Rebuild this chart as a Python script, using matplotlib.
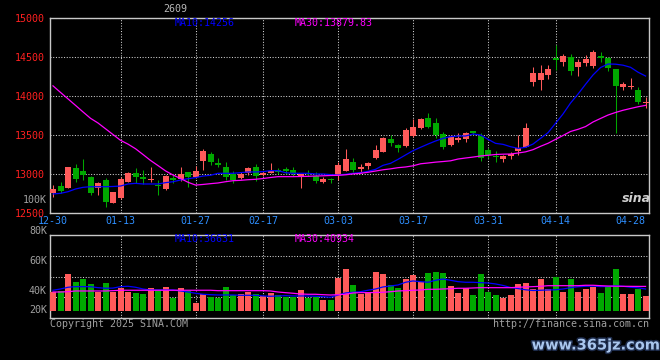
import matplotlib
matplotlib.use("Agg")
import matplotlib.pyplot as plt
import matplotlib.patheffects as pe

# ---------------------------------------------------------------
# daily candles, 12-30 .. 04-30
# ---------------------------------------------------------------
opens = [12760, 12846, 12825, 13077, 13034, 12957, 12817, 12923, 12632, 12696,
         12901, 13013, 12962, 12919, 12863, 12812, 12953, 12932, 13026, 12966,
         13171, 13256, 13137, 13094, 13000, 12949, 13009, 13094, 12991, 13017,
         13051, 13064, 13051, 12966, 13017, 12974, 12901, 12940, 12987, 13043,
         13158, 13064, 13103, 13201, 13286, 13449, 13372, 13363, 13492, 13586,
         13714, 13650, 13509, 13372, 13436, 13453, 13551, 13492, 13308, 13230,
         13188, 13231, 13299, 13350, 14183, 14205, 14269, 14491, 14440, 14496,
         14376, 14419, 14389, 14513, 14483, 14342, 14120, 14115, 14077, 13906]
highs = [12859, 12901, 13095, 13128, 13192, 12970, 12901, 12945, 12770, 12957,
         13025, 13073, 13051, 13086, 12923, 12990, 12987, 13086, 13030, 13107,
         13316, 13286, 13201, 13158, 13043, 13030, 13090, 13128, 13040, 13137,
         13073, 13090, 13086, 13000, 13051, 13030, 12960, 12945, 13150, 13320,
         13209, 13124, 13160, 13372, 13480, 13500, 13380, 13590, 13705, 13720,
         13778, 13714, 13543, 13500, 13522, 13543, 13556, 13530, 13330, 13290,
         13240, 13286, 13500, 13658, 14376, 14397, 14397, 14654, 14538, 14538,
         14470, 14530, 14590, 14560, 14500, 14350, 14180, 14227, 14120, 13983]
lows = [12709, 12753, 12820, 12901, 12923, 12735, 12731, 12581, 12630, 12675,
        12895, 12889, 12868, 12901, 12731, 12800, 12889, 12910, 12837, 12950,
        13051, 13115, 13086, 12923, 12880, 12940, 12987, 12914, 12980, 13010,
        13000, 13000, 12980, 12824, 12970, 12880, 12890, 12880, 12923, 13043,
        13030, 13009, 13060, 13195, 13280, 13363, 13278, 13340, 13478, 13575,
        13586, 13466, 13320, 13360, 13414, 13414, 13500, 13165, 13210, 13160,
        13150, 13190, 13244, 13340, 14128, 14077, 14218, 14333, 14389, 14269,
        14256, 14380, 14355, 14440, 14320, 13522, 14080, 14085, 13900, 13850]
closes = [12804, 12786, 13093, 12940, 12987, 12752, 12889, 12645, 12765, 12936,
          13013, 12966, 12940, 12936, 12846, 12974, 12923, 13004, 12962, 13043,
          13299, 13158, 13115, 12957, 12923, 13000, 13073, 12978, 13017, 13043,
          13030, 13038, 13009, 12996, 13000, 12910, 12940, 12923, 13115, 13192,
          13051, 13094, 13145, 13308, 13466, 13402, 13329, 13564, 13607, 13705,
          13607, 13500, 13350, 13479, 13466, 13530, 13522, 13201, 13244, 13220,
          13231, 13253, 13329, 13586, 14299, 14299, 14346, 14462, 14513, 14325,
          14440, 14474, 14568, 14483, 14355, 14132, 14154, 14128, 13927, 13919]

# volume in thousands
volumes = [31.1, 32.8, 61.6, 48.3, 53.3, 45.0, 32.1, 46.6, 32.1, 37.8,
           32.1, 30.5, 28.3, 38.3, 35.0, 40.0, 22.1, 38.3, 33.8, 13.8,
           27.8, 23.8, 22.1, 40.0, 26.6, 28.3, 32.1, 28.8, 24.5, 30.5,
           26.6, 23.8, 23.8, 35.0, 22.1, 23.8, 18.3, 18.8, 54.9, 69.9,
           43.3, 28.3, 31.1, 65.4, 61.6, 43.3, 38.3, 53.3, 59.9, 48.8,
           63.3, 64.9, 63.3, 41.6, 30.5, 38.3, 26.6, 61.6, 31.6, 26.6,
           22.1, 26.6, 45.0, 46.6, 37.1, 53.3, 37.1, 56.6, 31.6, 53.3,
           31.6, 37.1, 40.5, 30.0, 39.5, 69.9, 28.3, 28.3, 37.1, 25.0]

# moving averages as drawn on the chart
ma10 = [12744, 12752, 12773, 12808, 12829, 12837, 12837, 12837, 12840, 12846,
        12872, 12880, 12872, 12872, 12872, 12889, 12901, 12923, 12940, 12953,
        12974, 12983, 13009, 13009, 13009, 13017, 13026, 13026, 13030, 13043,
        13043, 13017, 13009, 13009, 13009, 13000, 13000, 12992, 12987, 12996,
        13009, 13017, 13034, 13060, 13111, 13137, 13188, 13244, 13299, 13342,
        13384, 13423, 13457, 13479, 13487, 13487, 13513, 13500, 13445, 13393,
        13380, 13350, 13329, 13342, 13384, 13457, 13530, 13650, 13770, 13910,
        14025, 14150, 14270, 14365, 14410, 14408, 14395, 14368, 14305, 14256]
ma30 = [14130, 14046, 13963, 13880, 13796, 13714, 13654, 13580, 13506, 13432,
        13383, 13324, 13250, 13174, 13108, 13040, 12987, 12942, 12894, 12858,
        12866, 12876, 12885, 12901, 12914, 12919, 12927, 12932, 12942, 12955,
        12966, 12966, 12966, 12968, 12970, 12974, 12977, 12981, 12983, 12990,
        13001, 13009, 13022, 13038, 13054, 13066, 13081, 13090, 13105, 13131,
        13141, 13152, 13160, 13169, 13192, 13205, 13217, 13231, 13240, 13250,
        13254, 13256, 13269, 13284, 13312, 13355, 13394, 13444, 13494, 13545,
        13573, 13608, 13667, 13712, 13756, 13789, 13817, 13840, 13862, 13880]
vol_ma10 = [34.5, 36.6, 39.5, 40.5, 40.5, 40.5, 38.8, 37.8, 38.1, 40.5,
            41.1, 39.5, 36.6, 35.0, 35.0, 35.0, 35.0, 33.3, 31.6, 29.5,
            27.8, 27.1, 26.6, 26.6, 26.6, 26.1, 26.1, 26.1, 25.0, 24.5,
            25.0, 25.5, 25.0, 25.0, 25.0, 24.5, 23.8, 22.8, 26.6, 30.0,
            31.1, 32.1, 34.5, 36.6, 40.0, 41.6, 43.3, 47.8, 50.0, 48.8,
            47.8, 51.1, 53.3, 51.1, 48.8, 47.8, 47.8, 47.1, 46.6, 45.0,
            42.5, 39.1, 37.3, 35.3, 34.1, 34.5, 35.0, 35.3, 36.6, 38.8,
            40.3, 41.1, 41.5, 40.6, 40.8, 42.0, 41.1, 39.5, 38.6, 36.6]
vol_ma30 = [31.6, 31.6, 32.1, 33.3, 33.3, 33.3, 33.3, 33.3, 33.8, 34.5,
            34.5, 34.5, 34.5, 34.5, 34.5, 34.5, 34.5, 34.5, 34.5, 34.5,
            34.5, 34.5, 33.8, 33.8, 33.8, 33.8, 33.8, 33.8, 33.8, 33.3,
            31.6, 30.5, 29.5, 28.3, 27.8, 27.8, 27.1, 26.6, 27.1, 27.8,
            30.0, 30.5, 30.5, 30.8, 31.1, 32.1, 33.3, 33.8, 34.5, 35.0,
            36.1, 36.1, 36.6, 37.1, 37.8, 37.8, 38.3, 38.8, 38.8, 38.8,
            38.8, 38.8, 39.5, 40.0, 40.5, 41.1, 42.1, 42.1, 42.1, 42.1,
            42.1, 42.8, 42.8, 42.1, 41.5, 41.2, 41.1, 41.0, 40.9, 40.9]

date_labels = ["12-30", "01-13", "01-27", "02-17", "03-03",
               "03-17", "03-31", "04-14", "04-28"]
date_idx = [0, 9, 19, 28, 38, 48, 58, 67, 77]
price_ticks = [12500, 13000, 13500, 14000, 14500, 15000]
vol_labels = ["80K", "60K", "40K", "20K"]

# ---------------------------------------------------------------
# styling
# ---------------------------------------------------------------
RED = "#ff5a5a"
GREEN = "#00a800"
GRID = "#d0d0d0"
FRAME = "#c8c8c8"
GRAY = "#a0a0a0"
MONO = "DejaVu Sans Mono"
FS = 7.2

W, H = 660, 360


def fx(px):
    return px / W


def fy(py):
    return 1 - py / H


fig = plt.figure(figsize=(W / 100, H / 100), dpi=100, facecolor="black")
ax1 = fig.add_axes([fx(50), fy(213), 599.3 / W, 195 / H], facecolor="black")
ax2 = fig.add_axes([fx(50), fy(318.3), 599.3 / W, 83.3 / H], facecolor="black")

n = len(closes)
x = list(range(n))
cols = [RED if c >= o else GREEN for o, c in zip(opens, closes)]

# ---- price panel ----
ax1.vlines(x, lows, highs, colors=cols, lw=0.75, zorder=3)
bottoms = [min(o, c) for o, c in zip(opens, closes)]
heights = [max(abs(c - o), 13) for o, c in zip(opens, closes)]
ax1.bar(x, heights, bottom=bottoms, width=0.8, color=cols, lw=0, zorder=4)
ax1.plot(x, ma10, color="#0000ff", lw=0.9, zorder=5)
ax1.plot(x, ma30, color="#ff00ff", lw=0.9, zorder=5)

ax1.set_xlim(-0.4, 79.5)
ax1.set_ylim(12500, 15000)
ax1.set_yticks(price_ticks)
ax1.set_yticklabels([str(v) for v in price_ticks], family=MONO, fontsize=FS)
ax1.set_xticks(date_idx)
ax1.set_xticklabels(date_labels, family=MONO, fontsize=FS)
ax1.tick_params(axis="y", length=0, pad=3.5, labelcolor="#ff2020")
ax1.tick_params(axis="x", length=0, pad=2.5, labelcolor="#2e8fff")
ax1.yaxis.grid(True, color=GRID, lw=0.75, linestyle=(0, (1, 1.6)))

# ---- volume panel ----
ax2.bar(x, volumes, width=0.8, color=cols, lw=0, zorder=3)
ax2.plot(x, vol_ma10, color="#0000ff", lw=0.9, zorder=4)
ax2.plot(x, vol_ma30, color="#ff00ff", lw=0.9, zorder=4)
ax2.set_xlim(-0.4, 79.5)
ax2.set_ylim(-12.2, 126.5)
ax2.set_xticks([])
ax2.set_yticks([])
for f in (0.25, 0.5, 0.75):
    ax2.plot([0, 1], [f, f], transform=ax2.transAxes, color=GRID, lw=0.75,
             linestyle=(0, (1, 1.6)), zorder=1)

for ax in (ax1, ax2):
    for i in date_idx[1:-1]:
        ax.axvline(i, color=GRID, lw=0.75, linestyle=(0, (1, 1.6)), zorder=1)
    for s in ax.spines.values():
        s.set_color(FRAME)
        s.set_linewidth(1)

# ---- texts ----
txt = dict(family=MONO, fontsize=FS)
fig.text(fx(175), fy(9), "2609", color="#b8b8b8", ha="center", va="center", **txt)
fig.text(fx(175), fy(23), "MA10:14256", color="#0000ff", va="center", **txt)
fig.text(fx(295), fy(23), "MA30:13879.83", color="#ff00ff", va="center", **txt)
fig.text(fx(175), fy(239), "MA10:36631", color="#0000ff", va="center", **txt)
fig.text(fx(295), fy(239), "MA30:40934", color="#ff00ff", va="center", **txt)
fig.text(fx(47), fy(200), "100K", color=GRAY, ha="right", va="center", **txt)
for lab, py in zip(vol_labels, [231, 261, 291, 310]):
    fig.text(fx(47), fy(py), lab, color=GRAY, ha="right", va="center", **txt)
fig.text(fx(50), fy(324), "Copyright 2025 SINA.COM", color=GRAY, va="center", **txt)
fig.text(fx(649), fy(324), "http://finance.sina.com.cn", color=GRAY,
         ha="right", va="center", **txt)

fig.text(fx(636), fy(198), "sina", color="#d0d0d0", ha="center", va="center",
         fontsize=9, fontweight="bold", fontstyle="italic")
fig.text(fx(596), fy(345), "www.365jz.com", color="#a9c6ee", ha="center",
         va="center", fontsize=10.5, fontweight="bold",
         path_effects=[pe.withStroke(linewidth=2.2, foreground="#1d2b4a")])

fig.savefig("out.png", dpi=100, facecolor="black")
